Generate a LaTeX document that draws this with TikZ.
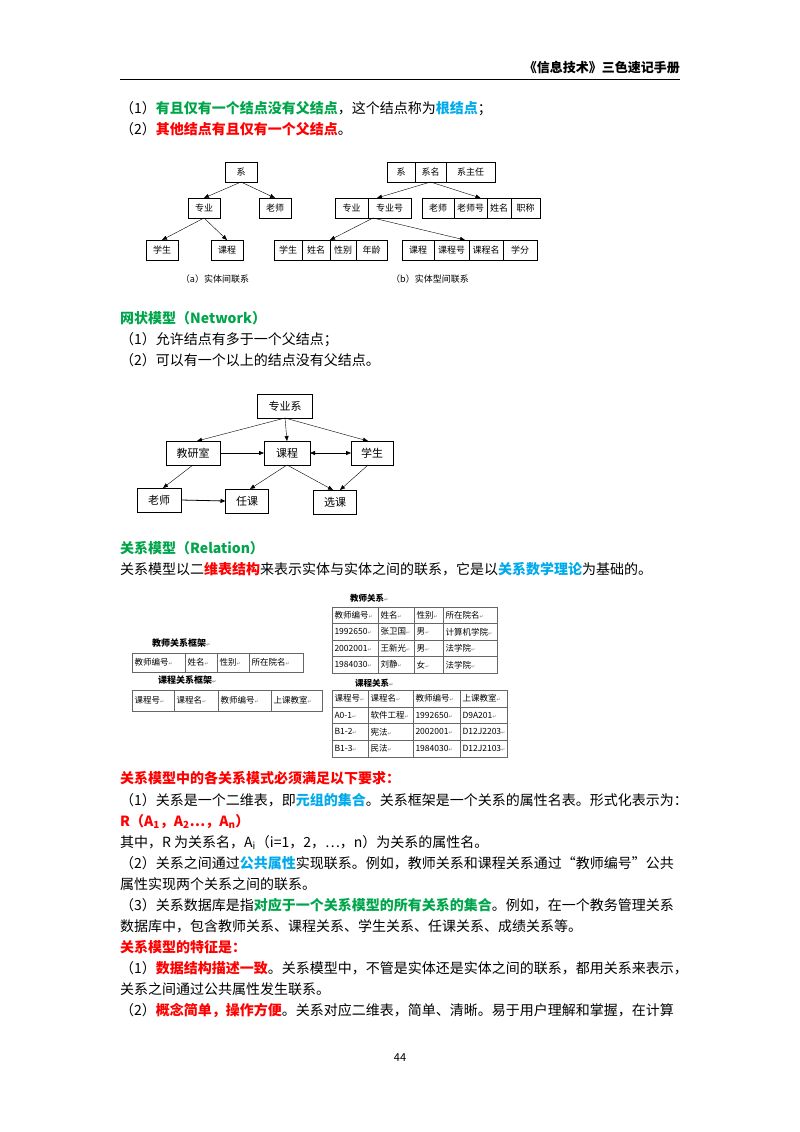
\documentclass[tikz,border=0pt]{standalone}
\usepackage{fontspec}
\setmainfont{Noto Sans CJK SC}
\newfontfamily\retfont{DejaVu Sans}
\usetikzlibrary{positioning,arrows.meta}
\definecolor{kgreen}{RGB}{0,165,75}
\definecolor{kblue}{RGB}{0,170,235}
\definecolor{kred}{RGB}{255,0,0}
\newcommand{\kg}[1]{\textcolor{kgreen}{\bfseries #1}}
\newcommand{\kb}[1]{\textcolor{kblue}{\bfseries #1}}
\newcommand{\kr}[1]{\textcolor{kred}{\bfseries #1}}
\newcommand{\ret}{{\retfont\fontsize{5}{5}\selectfont\color{gray}↵}}
% one row of a table: prefix, top y, height, list of x/width/text
\newcommand{\tabrow}[4]{%
  \foreach \cx/\cw/\ct [count=\ci] in {#4}{%
    \pgfmathsetmacro\tw{\cw-5}%
    \node[cell, minimum height=#3, text width=\tw pt] (#1-\ci) at (\cx,#2) {\ct\ret};}}

\begin{document}
\begin{tikzpicture}[x=1pt,y=-1pt,
  line/.style={anchor=base west, inner sep=0, font=\fontsize{14}{16}\selectfont},
  box/.style={draw, minimum height=20, inner sep=1, outer sep=0, font=\fontsize{9}{10}\selectfont},
  nbox/.style={draw, minimum height=24, inner sep=1, outer sep=0, font=\fontsize{11}{12}\selectfont},
  cell/.style={draw, gray!80!black, text=black, anchor=north west, inner xsep=2.5, inner ysep=0, outer sep=0, align=left, font=\fontsize{8.5}{9}\selectfont},
  arr/.style={-{Triangle[length=5,width=4]}, thin},
  capt/.style={inner sep=0, font=\fontsize{9}{10}\selectfont}]
\useasboundingbox (0,0) rectangle (800,1132);

% header
\node[anchor=base east, inner sep=0, font=\fontsize{13}{14}\selectfont\bfseries] (head) at (680,73) {《信息技术》三色速记手册};
\draw (120,79) -- (680,79);

\node[line] (l1) at (120,113) {（1）\kg{有且仅有一个结点没有父结点}，这个结点称为\kb{根结点}；};
\node[line] (l2) at (120,134) {（2）\kr{其他结点有且仅有一个父结点}。};

% (a) entities
\node[box, minimum width=32] (xi) at (241,172) {系};
\node[box, minimum width=32] (zy) at (204,208) {专业};
\node[box, minimum width=32] (ls) at (275,208) {老师};
\node[box, minimum width=32] (xs) at (162,250) {学生};
\node[box, minimum width=32] (kc) at (227,250) {课程};
\draw[arr] (xi.south) -- (zy.north);
\draw[arr] (xi.south) -- (ls.north);
\draw[arr] (zy.south) -- (xs.north);
\draw[arr] (zy.south) -- (kc.north);
\node[capt] (capa) at (215,279) {（a）实体间联系};

% (b) entity types
\node[box, minimum width=28] (b11) at (401,172) {系};
\node[box, minimum width=31, right=0pt of b11] (b12) {系名};
\node[box, minimum width=49, right=0pt of b12] (b13) {系主任};
\node[box, minimum width=33] (b21) at (351.5,208) {专业};
\node[box, minimum width=43, right=0pt of b21] (b22) {专业号};
\node[box, minimum width=32] (b31) at (438,208) {老师};
\node[box, minimum width=33, right=0pt of b31] (b32) {老师号};
\node[box, minimum width=24, right=0pt of b32] (b33) {姓名};
\node[box, minimum width=29, right=0pt of b33] (b34) {职称};
\node[box, minimum width=28] (b41) at (288,250) {学生};
\node[box, minimum width=28, right=0pt of b41] (b42) {姓名};
\node[box, minimum width=26, right=0pt of b42] (b43) {性别};
\node[box, minimum width=31, right=0pt of b43] (b44) {年龄};
\node[box, minimum width=32] (b51) at (418,250) {课程};
\node[box, minimum width=35, right=0pt of b51] (b52) {课程号};
\node[box, minimum width=34, right=0pt of b52] (b53) {课程名};
\node[box, minimum width=34, right=0pt of b53] (b54) {学分};
\draw[arr] (b12.south) -- ([xshift=9pt]b21.north east);
\draw[arr] (b12.south) -- ([xshift=10pt]b32.north);
\draw[arr] ([xshift=5pt]b21.south east) -- (b42.north east);
\draw[arr] ([xshift=5pt]b21.south east) -- ([xshift=-4pt]b52.north east);
\node[capt] (capb) at (430,279) {（b）实体型间联系};

\node[line] (l3) at (120,323) {\kg{网状模型（Network）}};
\node[line] (l4) at (120,344) {（1）允许结点有多于一个父结点；};
\node[line] (l5) at (120,365) {（2）可以有一个以上的结点没有父结点。};

% network model
\node[nbox, minimum width=55] (zyx) at (285,406) {专业系};
\node[nbox, minimum width=54] (jys) at (193,453) {教研室};
\node[nbox, minimum width=46] (kc2) at (287,453) {课程};
\node[nbox, minimum width=42] (xs2) at (372,453) {学生};
\node[nbox, minimum width=44] (ls2) at (159,500) {老师};
\node[nbox, minimum width=43] (rk) at (247,501) {任课};
\node[nbox, minimum width=43] (xk) at (335,502) {选课};
\draw[arr] (zyx.south) -- ([xshift=4pt]jys.north);
\draw[arr] (zyx.south) -- (kc2.north);
\draw[arr] (zyx.south) -- ([xshift=-4pt]xs2.north);
\draw[arr] (jys.east) -- (kc2.west);
\draw[{Triangle[length=5,width=4]}-{Triangle[length=5,width=4]}, thin] (kc2.east) -- (xs2.west);
\draw[arr] (jys.south) -- ([xshift=4pt]ls2.north);
\draw[arr, thick] (ls2.east) -- (rk.west);
\draw[arr] (kc2.south) -- ([xshift=3pt]rk.north);
\draw[arr] (kc2.south) -- ([xshift=-2pt]xk.north);
\draw[arr] ([xshift=-4pt]xs2.south) -- ([xshift=5pt]xk.north);

\node[line] (l6) at (120,553) {\kg{关系模型（Relation）}};
\node[line] (l7) at (120,574) {关系模型以二\kr{维表结构}来表示实体与实体之间的联系，它是以\kb{关系数学理论}为基础的。};

% relation frames and tables
\node[capt, anchor=west, font=\fontsize{9}{10}\selectfont\bfseries] (tf) at (152,643) {教师关系框架\ret};
\tabrow{tfr}{653}{19}{132/53/教师编号, 185/32/姓名, 217/32/性别, 249/54/所在院名}
\node[capt, anchor=west, font=\fontsize{9}{10}\selectfont\bfseries] (cf) at (158,680) {课程关系框架\ret};
\tabrow{cfr}{690}{21}{132/42/课程号, 174/44/课程名, 218/53/教师编号, 271/51/上课教室}

\node[capt, anchor=west, font=\fontsize{8.5}{9}\selectfont\bfseries] (tt) at (350,598) {教师关系\ret};
\tabrow{ta}{607}{16.5}{332/46/教师编号, 378/36/姓名, 414/29/性别, 443/54/所在院名}
\tabrow{tb}{623.5}{16.5}{332/46/1992650, 378/36/张卫国, 414/29/男, 443/54/计算机学院}
\tabrow{tc}{640}{16.5}{332/46/2002001, 378/36/王新光, 414/29/男, 443/54/法学院}
\tabrow{td}{656.5}{16.5}{332/46/1984030, 378/36/刘静, 414/29/女, 443/54/法学院}

\node[capt, anchor=west, font=\fontsize{8.5}{9}\selectfont\bfseries] (ct) at (355,683) {课程关系\ret};
\tabrow{ca}{690}{16.7}{332/36/课程号, 368/45/课程名, 413/47/教师编号, 460/47/上课教室}
\tabrow{cb}{706.7}{16.7}{332/36/A0-1, 368/45/软件工程, 413/47/1992650, 460/47/D9A201}
\tabrow{cc}{723.4}{16.7}{332/36/B1-2, 368/45/宪法, 413/47/2002001, 460/47/D12J2203}
\tabrow{cd}{740.1}{16.7}{332/36/B1-3, 368/45/民法, 413/47/1984030, 460/47/D12J2103}

% requirements
\node[line] (l8) at (120,783) {\kr{关系模型中的各关系模式必须满足以下要求：}};
\node[line] (l9) at (120,805) {（1）关系是一个二维表，即\kb{元组的集合}。关系框架是一个关系的属性名表。形式化表示为：};
\node[line] (l10) at (120,826) {\kr{R（A\textsubscript{1}，A\textsubscript{2}…，A\textsubscript{n}）}};
\node[line] (l11) at (120,847) {其中，R 为关系名，A\textsubscript{i}（i=1，2，…，n）为关系的属性名。};
\node[line] (l12) at (120,868) {（2）关系之间通过\kb{公共属性}实现联系。例如，教师关系和课程关系通过“教师编号”公共};
\node[line] (l13) at (120,889) {属性实现两个关系之间的联系。};
\node[line] (l14) at (120,910) {（3）关系数据库是指\kg{对应于一个关系模型的所有关系的集合}。例如，在一个教务管理关系};
\node[line] (l15) at (120,931) {数据库中，包含教师关系、课程关系、学生关系、任课关系、成绩关系等。};
\node[line] (l16) at (120,952) {\kr{关系模型的特征是：}};
\node[line] (l17) at (120,973) {（1）\kr{数据结构描述一致}。关系模型中，不管是实体还是实体之间的联系，都用关系来表示，};
\node[line] (l18) at (120,994) {关系之间通过公共属性发生联系。};
\node[line] (l19) at (120,1015) {（2）\kr{概念简单，操作方便}。关系对应二维表，简单、清晰。易于用户理解和掌握，在计算};

\node[inner sep=0, font=\fontsize{11}{12}\selectfont] (pg) at (400,1058) {44};
\end{tikzpicture}
\end{document}
